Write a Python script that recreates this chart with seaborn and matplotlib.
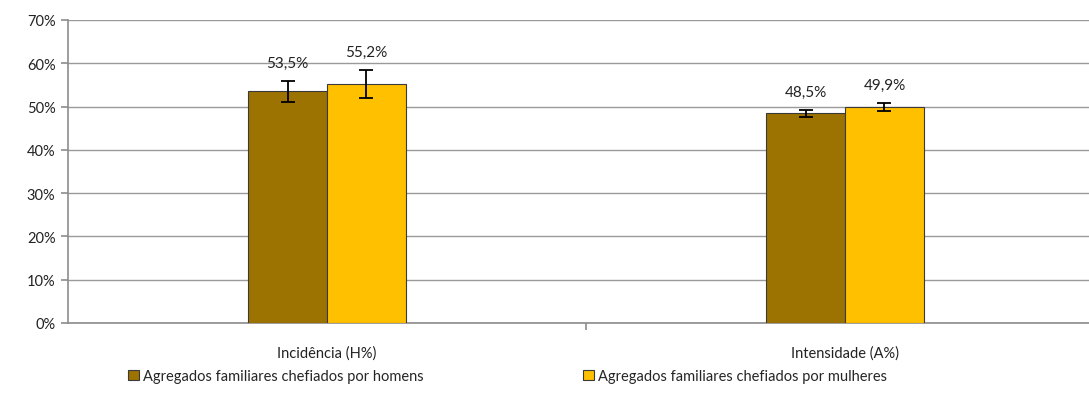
import matplotlib
matplotlib.use("Agg")
import matplotlib.pyplot as plt
from matplotlib.patches import Patch
from matplotlib.ticker import PercentFormatter, FixedLocator
import seaborn as sns
import pandas as pd

# Data
categories = ["Incidência (H%)", "Intensidade (A%)"]
groups = ["Agregados familiares chefiados por homens",
          "Agregados familiares chefiados por mulheres"]
homens = [53.5, 48.5]
mulheres = [55.2, 49.9]
err_homens = [2.5, 0.8]
err_mulheres = [3.3, 0.9]

colors = ["#9C7200", "#FFC000"]

df = pd.DataFrame({
    "cat": categories * 2,
    "grupo": [groups[0]] * 2 + [groups[1]] * 2,
    "valor": homens + mulheres,
    "erro": err_homens + err_mulheres,
})

sns.set_theme(style="white")
plt.rcParams["font.family"] = ["Lato", "DejaVu Sans"]
plt.rcParams["font.size"] = 10.5

fig = plt.figure(figsize=(10.89, 4.14), dpi=100)
ax = fig.add_axes([68 / 1089, 90 / 414, 1036 / 1089, 303 / 414])

sns.barplot(data=df, x="cat", y="valor", hue="grupo", palette=colors,
            saturation=1, width=0.305, edgecolor="#3a3a3a", linewidth=0.8,
            errorbar=None, legend=False, ax=ax, zorder=3)

# error bars and labels, matched to the bar patches
bars = [p for p in ax.patches if p.get_height() > 0]
for bar, (_, row) in zip(bars, df.iterrows()):
    xc = bar.get_x() + bar.get_width() / 2
    ax.errorbar(xc, row["valor"], yerr=row["erro"], fmt="none", ecolor="black",
                elinewidth=1.3, capsize=5, capthick=1.3, zorder=4)
    ax.annotate(f"{row['valor']:.1f}%".replace(".", ","),
                (xc, row["valor"] + row["erro"]), xytext=(0, 13),
                textcoords="offset points", ha="center", va="center",
                fontsize=11, color="#222222")

ax.set_ylim(0, 70)
ax.set_xlim(-0.5, 1.5)
ax.yaxis.set_major_locator(FixedLocator(range(0, 71, 10)))
ax.yaxis.set_major_formatter(PercentFormatter(100, decimals=0))
ax.grid(axis="y", color="#9a9a9a", linewidth=1, zorder=0)
ax.set_axisbelow(True)
ax.set_xlabel("")
ax.set_ylabel("")

for s in ["top", "right"]:
    ax.spines[s].set_visible(False)
for s in ["left", "bottom"]:
    ax.spines[s].set_color("#8c8c8c")
    ax.spines[s].set_linewidth(1.2)

ax.tick_params(axis="y", which="major", left=True, length=5, color="#8c8c8c",
               width=1.2, labelsize=10.5, labelcolor="#222222", pad=4)
ax.tick_params(axis="x", which="major", bottom=False, labelsize=10.5,
               labelcolor="#222222", pad=10)
ax.xaxis.set_minor_locator(FixedLocator([0.5]))
ax.tick_params(axis="x", which="minor", bottom=True, length=5,
               color="#8c8c8c", width=1.2)

handles = [Patch(facecolor=c, edgecolor="#3a3a3a", linewidth=0.8) for c in colors]
fig.legend(handles, groups, loc="center", bbox_to_anchor=(0.466, 0.089),
           ncol=2, frameon=False, fontsize=10.5, handlelength=0.75,
           handleheight=0.75, handletextpad=0.3, columnspacing=10.9)

fig.savefig("out.png", dpi=100)
